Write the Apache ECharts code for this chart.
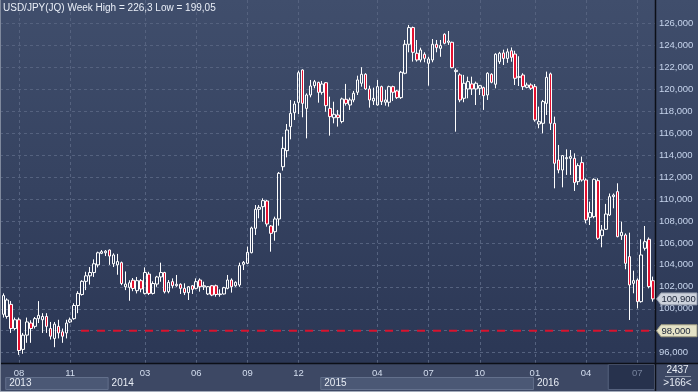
<!DOCTYPE html>
<html><head><meta charset="utf-8">
<script src="https://cdn.jsdelivr.net/npm/echarts@6/dist/echarts.min.js"></script>
<style>html,body{margin:0;padding:0;background:#3d4864;}#c{width:698px;height:392px;}</style>
</head><body><div id="c"></div>
<script>
const chartTitle = 'USD/JPY(JQ) Week High = 226,3 Low = 199,05';
const opens = [99.5,99.3,100.4,98.2,99.0,96.3,97.6,98.7,98.4,99.1,99.0,99.3,98.2,97.3,98.4,97.9,97.8,98.8,99.1,100.3,
101.3,102.5,103.0,103.3,104.0,105.05,105.1,105.35,104.1,104.0,104.2,102.0,101.95,102.6,101.65,102.56,101.4,103.16,101.4,102.25,
102.9,103.3,101.56,102.47,102.1,102.23,101.86,101.47,102.1,101.86,102.62,102.0,101.35,102.1,102.1,101.29,101.35,101.86,102.62,102.1,
102.17,104.05,104.14,105.11,107.33,109.06,109.3,109.82,107.54,107.02,108.18,112.94,114.4,116.59,117.86,118.8,121.75,118.25,119.47,120.32,
120.62,119.71,120.59,118.25,117.4,117.65,117.05,119.08,118.56,119.02,119.72,120.54,121.36,120.02,118.93,118.56,120.23,118.81,118.81,120.23,
119.84,119.23,121.45,124.09,125.61,123.27,122.66,123.18,122.36,122.66,124.09,123.72,125.0,124.27,124.27,121.6,121.3,119.17,120.02,120.48,
120.02,120.08,120.14,119.47,121.36,120.45,122.5,123.3,122.8,123.5,123.2,121.08,121.29,120.17,120.38,120.23,116.83,116.89,118.71,121.39,
116.89,113.55,112.64,113.67,113.7,113.7,111.58,113.31,111.73,108.33,108.39,111.67,106.66,107.24,108.54,110.21,110.67,106.66,106.72,104.75,
102.32,102.62,100.65,105.51,106.33,102.56];
const closes = [101.2,100.8,98.2,99.0,96.2,97.6,98.8,98.2,99.1,99.4,99.3,98.4,97.5,98.6,97.8,97.5,98.7,99.0,100.3,101.4,
102.5,103.0,103.3,104.1,105.1,105.2,105.25,104.8,104.9,104.3,102.3,102.25,102.37,101.85,102.56,101.8,103.3,101.4,102.3,102.9,
103.3,101.55,102.4,102.1,102.23,101.86,101.47,102.01,101.77,102.47,102.01,102.1,102.01,101.25,101.3,101.35,101.92,102.62,102.01,102.41,
103.93,104.23,105.14,107.36,109.06,109.24,109.85,107.72,106.87,108.18,112.34,114.61,116.28,117.8,118.65,121.5,118.71,119.47,120.29,120.68,
119.71,120.47,118.5,117.5,117.71,117.41,119.11,118.71,119.02,119.63,120.84,121.36,120.02,119.02,119.17,120.23,118.87,119.02,120.23,119.72,
119.23,121.54,124.09,125.61,123.36,122.66,123.57,122.81,122.75,124.09,123.78,123.97,124.18,124.39,121.96,121.72,119.02,120.54,120.69,120.02,
120.54,120.32,119.41,121.45,120.63,123.18,123.27,122.8,123.4,122.9,120.99,121.14,120.23,120.38,120.08,117.2,117.04,118.87,121.08,116.89,
113.25,112.64,113.95,113.77,113.86,111.49,113.04,111.73,108.09,108.76,111.79,106.42,107.18,108.63,110.21,110.36,106.57,106.96,104.14,102.17,
102.56,100.65,104.9,106.11,102.02,100.9];
const lows = [99.2,99.1,97.8,98.05,95.8,95.9,96.9,96.9,98.2,98.7,97.8,97.8,97.2,96.5,97.3,96.9,97.3,98.7,99.0,99.6,
101.2,101.7,102.2,102.9,103.77,104.98,104.8,104.0,103.8,103.1,102.15,101.7,100.73,101.6,101.4,101.5,101.3,101.25,101.3,102.0,
102.46,101.4,101.41,101.86,102.0,101.35,101.25,100.8,101.35,101.77,101.56,101.71,101.25,101.15,101.1,101.1,101.3,101.77,101.47,102.0,
102.0,103.53,104.08,105.05,106.72,108.24,107.93,107.48,105.2,106.2,107.57,112.58,113.79,115.43,117.19,117.74,117.44,115.52,119.26,120.08,
118.77,119.5,117.95,115.77,116.89,116.59,116.89,118.5,118.11,118.81,119.47,120.23,119.93,118.32,118.56,118.5,118.56,118.5,118.41,118.93,
119.11,119.11,121.36,123.36,122.51,122.51,122.45,122.45,120.32,122.45,123.36,122.95,124.09,124.03,121.9,116.13,118.81,118.81,119.17,119.47,
118.56,119.47,118.11,119.02,120.54,120.08,122.3,122.2,122.4,122.5,120.38,120.29,119.93,120.08,119.93,117.04,116.44,115.98,117.65,116.28,
110.97,112.34,111.06,112.19,112.19,110.73,111.28,111.58,107.78,107.63,108.24,106.27,105.6,107.18,108.45,109.15,106.51,106.27,103.6,98.98,
101.41,100.04,100.56,105.3,101.86,100.65];
const highs = [101.4,100.95,100.7,99.2,99.2,97.8,99.2,98.95,99.25,100.7,99.6,99.6,98.8,98.8,99.0,98.2,99.0,99.2,100.5,101.6,
102.6,103.37,103.8,104.5,105.2,105.35,105.35,105.4,105.05,105.0,104.3,103.4,102.6,102.8,102.9,102.7,103.77,103.37,102.5,103.0,
104.2,103.37,102.62,102.77,103.08,102.32,102.32,102.07,102.17,102.77,102.77,102.47,102.07,102.17,102.2,101.77,102.0,103.08,102.77,102.5,
104.2,104.35,105.66,107.48,109.45,109.45,110.06,109.91,107.63,108.39,112.46,115.67,116.83,119.01,118.92,121.69,121.81,119.62,120.84,120.84,
120.68,120.74,120.65,119.32,118.86,118.11,119.23,120.48,119.23,119.84,121.23,122.0,121.45,120.32,120.14,120.84,120.32,119.93,120.32,120.32,
119.93,121.66,124.48,125.85,125.7,124.48,123.78,123.36,122.95,124.57,124.48,124.48,125.09,125.3,124.33,121.9,121.45,121.3,121.14,121.14,
120.69,120.38,120.23,121.54,121.45,123.27,123.4,123.6,123.7,123.8,123.5,123.0,121.45,120.6,120.53,120.47,118.41,119.02,121.6,121.51,
117.5,114.92,114.0,114.52,114.46,114.16,113.25,113.86,111.88,109.76,111.88,111.88,107.63,109.55,110.5,110.5,111.43,107.94,106.87,106.93,
103.47,102.77,106.33,107.54,106.5,102.93];

const tickIndex = [4,17,36,49,62,75,95,108,121,135,148,161];
const tickLabels = ['08','11','03','06','09','12','04','07','10','01','04','07'];
const yearStartIdx = [1,27,81,135];
const yearLabels = ['2013','2014','2015','2016'];
const currentPeriodIdx = 154;
const yTicks = {min: 96, max: 126, step: 2};
const lastPrice = 100.9;
const refLevel = 98.0;
const refStartIdx = 20;
const barsTotal = '2437';
const barsVisible = '>166<';

const FONT = "'Liberation Sans', Arial, sans-serif";
const PLOT_R = 655, PLOT_B = 363, W = 698, H = 392;
const Y_TOP_TICK = 23.3, Y_BOT_TICK = 352.7;
const ppu = (Y_BOT_TICK - Y_TOP_TICK) / (yTicks.max - yTicks.min);
const yMax = yTicks.max + Y_TOP_TICK / ppu;
const yMin = yTicks.min - (PLOT_B - Y_BOT_TICK) / ppu;

const cats = opens.map((_, i) => String(i));
const ohlc = opens.map((o, i) => [o, closes[i], lows[i], highs[i]]);
const tickSet = new Set(tickIndex);
const fmtPrice = v => Math.round(v * 1000).toLocaleString('en-US');

const chart = echarts.init(document.getElementById('c'), null, {renderer: 'canvas'});
chart.setOption({
  backgroundColor: '#3d4864',
  animation: false,
  title: {text: chartTitle, left: 3, top: 3, padding: 0,
    textStyle: {color: '#e9eef7', fontSize: 10, fontWeight: 'normal', fontFamily: FONT}},
  grid: [
    {left: 1.3, right: W - PLOT_R, top: 0, height: PLOT_B},
    {left: 0, right: W - PLOT_R, top: Y_TOP_TICK, height: Y_BOT_TICK - Y_TOP_TICK}
  ],
  xAxis: [
    {type: 'category', gridIndex: 0, data: cats, boundaryGap: true,
     axisLine: {show: false}, axisTick: {show: false, alignWithLabel: true},
     axisLabel: {interval: (i) => tickSet.has(i), margin: 5, fontSize: 9.5, fontFamily: FONT,
       formatter: (v, i) => { const k = tickIndex.indexOf(Number(v)); return k >= 0 ? tickLabels[k] : ''; },
       color: (v) => Number(v) >= currentPeriodIdx ? '#76829c' : '#d3ddee'},
     splitLine: {show: true, alignWithLabel: true, interval: (i) => tickSet.has(i),
       lineStyle: {color: '#55627f', type: [3, 3], width: 1}}},
    {type: 'category', gridIndex: 1, data: cats, show: false}
  ],
  yAxis: [
    {type: 'value', gridIndex: 0, min: yMin, max: yMax, show: false, splitLine: {show: false}},
    {type: 'value', gridIndex: 1, position: 'right', min: yTicks.min, max: yTicks.max, interval: yTicks.step,
     axisLine: {show: false}, axisTick: {show: false},
     axisLabel: {color: '#c6d4ec', fontSize: 9.5, fontFamily: FONT, margin: 4, formatter: fmtPrice},
     splitLine: {show: true, lineStyle: {color: '#55627f', type: [3, 3], width: 1}}}
  ],
  series: [{
    type: 'candlestick', xAxisIndex: 0, yAxisIndex: 0, data: ohlc, barWidth: 3, clip: false,
    itemStyle: {color: 'rgba(0,0,0,0)', color0: '#e3102f', borderColor: '#ffffff', borderColor0: '#ffffff', borderWidth: 1}
  }]
});

const cx = i => chart.convertToPixel({xAxisIndex: 0}, String(i));
const cy = v => chart.convertToPixel({yAxisIndex: 0}, v);
const step = cx(1) - cx(0);
const bx = i => cx(i) - step / 2;

const g = [];
const grad = (a, b) => new echarts.graphic.LinearGradient(0, 0, 0, 1, [{offset: 0, color: a}, {offset: 1, color: b}]);
g.push({type: 'rect', z: -10, shape: {x: 0, y: 0, width: PLOT_R, height: PLOT_B}, style: {fill: grad('#404e6c', '#2b3755')}});
g.push({type: 'rect', z: -10, shape: {x: PLOT_R, y: 0, width: W - PLOT_R, height: PLOT_B}, style: {fill: grad('#404e6c', '#2b3755')}});
g.push({type: 'rect', z: -10, shape: {x: 0, y: PLOT_B, width: W, height: H - PLOT_B}, style: {fill: '#3d4864'}});
yearStartIdx.forEach((s, k) => {
  const x0 = bx(s);
  const x1 = k + 1 < yearStartIdx.length ? bx(yearStartIdx[k + 1]) : bx(currentPeriodIdx);
  if (k % 2 === 0) {
    g.push({type: 'rect', z: -5, shape: {x: x0 + 0.5, y: 377.5, width: x1 - x0, height: 12},
      style: {fill: '#4b5875', stroke: '#63708c', lineWidth: 1}});
  }
  g.push({type: 'text', z: 5, x: x0 + 4, y: 383.5,
    style: {text: yearLabels[k], fill: '#e8edf5', font: '10px ' + FONT, textVerticalAlign: 'middle'}});
});
g.push({type: 'rect', z: -5, shape: {x: bx(currentPeriodIdx) + 0.5, y: 364.5, width: PLOT_R - bx(currentPeriodIdx) - 1, height: 25},
  style: {fill: '#27324d', stroke: '#56627e', lineWidth: 1}});
g.push({type: 'line', z: 6, shape: {x1: cx(refStartIdx) - 1, y1: cy(refLevel), x2: PLOT_R, y2: cy(refLevel)},
  style: {stroke: '#d8132e', lineWidth: 2, lineDash: [8, 8]}});
g.push({type: 'line', z: 8, shape: {x1: 0, y1: PLOT_B + 0.5, x2: W, y2: PLOT_B + 0.5}, style: {stroke: '#0c0f17', lineWidth: 1.5}});
g.push({type: 'line', z: 8, shape: {x1: PLOT_R + 0.5, y1: 0, x2: PLOT_R + 0.5, y2: H}, style: {stroke: '#0c0f17', lineWidth: 1.5}});
g.push({type: 'line', z: 8, shape: {x1: 0.5, y1: 0, x2: 0.5, y2: H}, style: {stroke: '#7f899d', lineWidth: 1}});
g.push({type: 'line', z: 8, shape: {x1: 0, y1: H - 0.5, x2: W, y2: H - 0.5}, style: {stroke: '#a3abba', lineWidth: 1}});
function tag(v, fill, stroke) {
  const y = cy(v);
  g.push({type: 'polygon', z: 9, shape: {points: [[PLOT_R + 1.5, y], [PLOT_R + 6, y - 6], [W - 1, y - 6], [W - 1, y + 6], [PLOT_R + 6, y + 6]]},
    style: {fill: fill, stroke: stroke, lineWidth: 1}});
  g.push({type: 'text', z: 10, x: PLOT_R + 6.5, y: y + 0.5,
    style: {text: fmtPrice(v), fill: '#1b2438', font: '9.5px ' + FONT, textVerticalAlign: 'middle'}});
}
tag(lastPrice, '#cdd2dc', '#8e96a6');
tag(refLevel, '#e4e2c6', '#9d9b82');
const midR = (PLOT_R + W) / 2 + 1;
g.push({type: 'text', z: 10, x: midR, y: 370, style: {text: barsTotal, fill: '#e8edf5', font: '10px ' + FONT, textAlign: 'center', textVerticalAlign: 'middle'}});
g.push({type: 'line', z: 10, shape: {x1: 665, y1: 376.5, x2: 691, y2: 376.5}, style: {stroke: '#8d97ab', lineWidth: 1}});
g.push({type: 'text', z: 10, x: midR, y: 383.5, style: {text: barsVisible, fill: '#e8edf5', font: '10px ' + FONT, textAlign: 'center', textVerticalAlign: 'middle'}});

chart.setOption({graphic: g});
</script>
</body></html>
